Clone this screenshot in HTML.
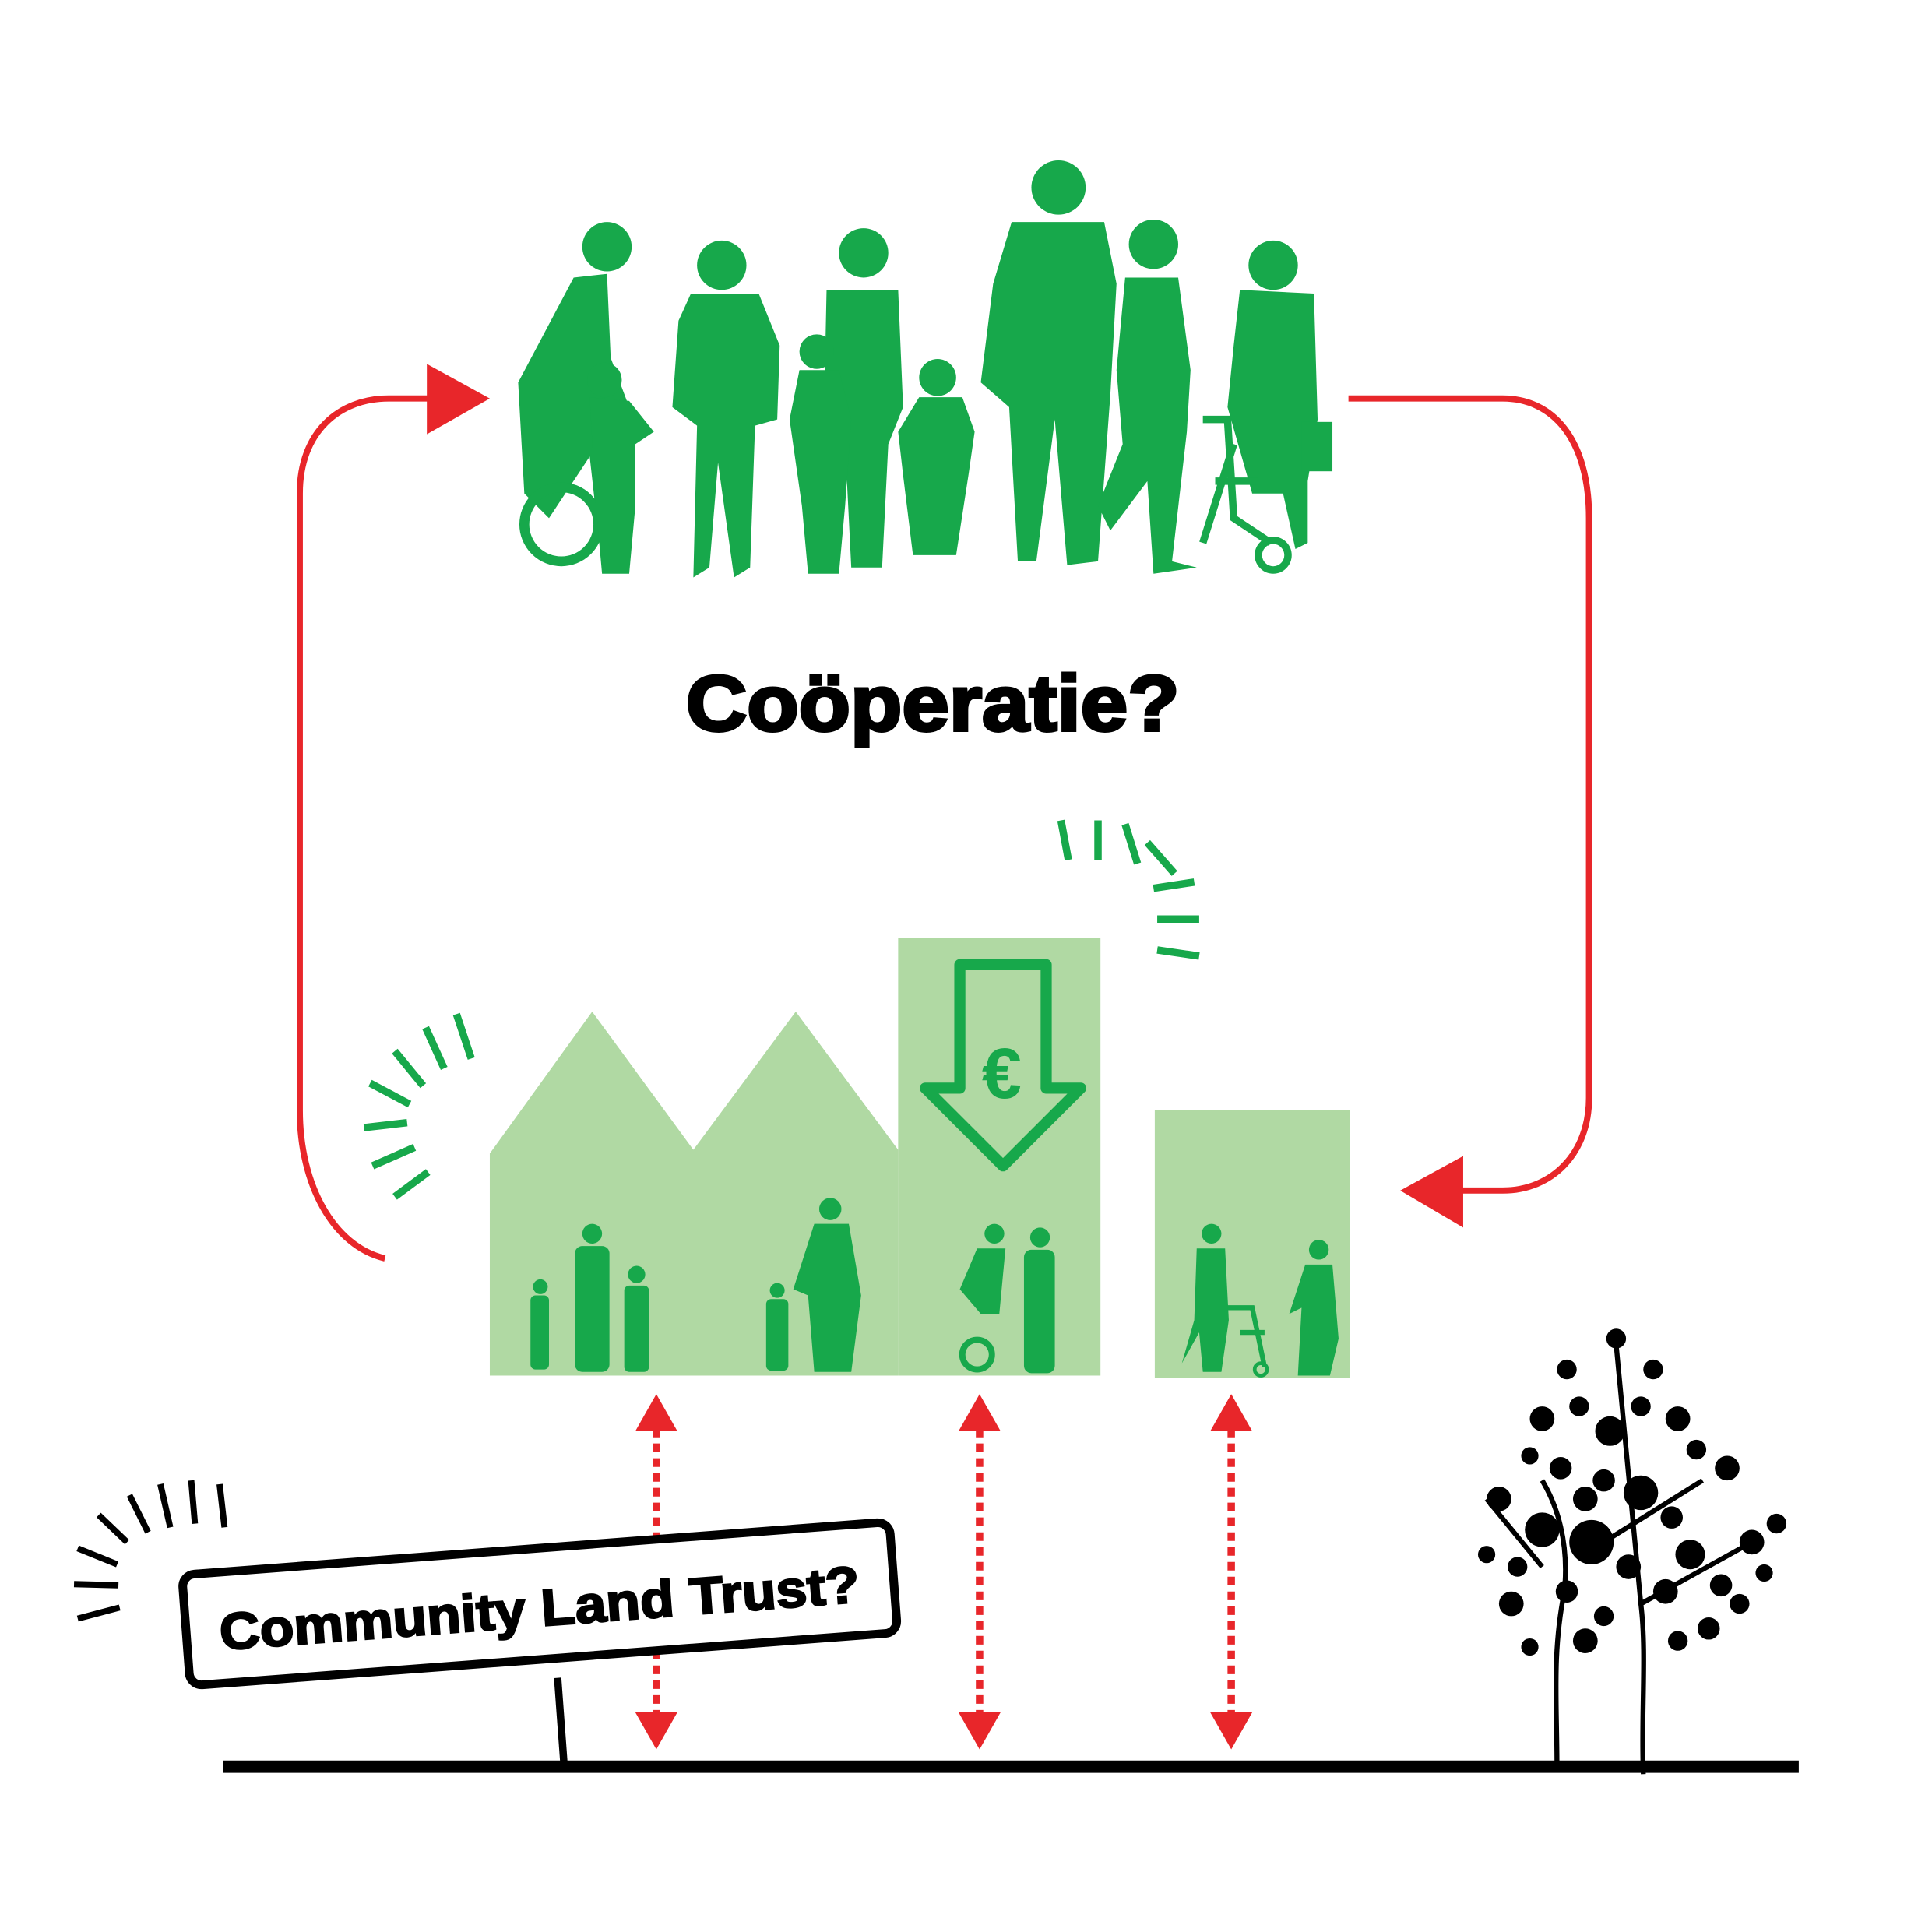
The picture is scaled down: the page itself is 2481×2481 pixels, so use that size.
<!DOCTYPE html>
<html><head><meta charset="utf-8"><style>
html,body{margin:0;padding:0;background:#fff}
svg{display:block}
</style></head><body>
<svg width="2481" height="2481" viewBox="0 0 1566 1566" xmlns="http://www.w3.org/2000/svg">
<rect width="1566" height="1566" fill="#fff"/>
<!-- red loop -->
<g fill="none" stroke="#e8262a" stroke-width="5">
<path d="M312,1020 C270,1010 243,960 243,900 L243,400 C243,350 275,323 315,323 L352,323"/>
<path d="M1093,323 L1218,323 C1258,323 1288,355 1288,420 L1288,890 C1288,935 1258,965 1218,965 L1183,965"/>
</g>
<polygon points="346,295 397,323 346,352" fill="#e8262a"/>
<polygon points="1186,937 1135,965 1186,995" fill="#e8262a"/>
<!-- big people -->
<g fill="#17a84b">
<circle cx="492" cy="200" r="20"/><path d="M465,225 L492,222 L495,290 L510,330 L505,460 L488,460 L478,370 L445,420 L425,400 L420,310 Z"/>
<circle cx="455" cy="425" r="30" fill="none" stroke="#17a84b" stroke-width="8"/>
<circle cx="490" cy="308" r="14"/><path d="M478,322 L510,325 L530,350 L515,360 L515,410 L510,465 L488,465 L483,410 Z"/>
<circle cx="585" cy="215" r="20"/><path d="M560,238 L615,238 L632,280 L630,340 L612,345 L608,460 L595,468 L582,375 L575,460 L562,468 L565,345 L545,330 L550,260 Z"/>
<circle cx="700" cy="205" r="20"/><path d="M670,235 L728,235 L732,330 L720,360 L715,460 L690,460 L685,360 L668,330 Z"/>
<circle cx="662" cy="285" r="14"/><path d="M648,300 L680,300 L690,340 L685,410 L680,465 L655,465 L650,410 L640,340 Z"/>
<circle cx="760" cy="306" r="15"/><path d="M745,322 L780,322 L790,350 L785,385 L775,450 L740,450 L732,385 L728,350 Z"/>
<circle cx="858" cy="152" r="22"/><path d="M820,180 L895,180 L905,230 L900,320 L890,455 L865,458 L855,340 L840,455 L825,455 L818,330 L795,310 L805,230 Z"/>
<circle cx="935" cy="198" r="20"/><path d="M912,225 L955,225 L965,300 L962,350 L950,455 L970,460 L935,465 L930,390 L900,430 L890,410 L910,360 L905,300 Z"/>
<circle cx="1032" cy="215" r="20"/><path d="M1005,235 L1065,238 L1068,340 L1060,390 L1060,440 L1050,445 L1040,400 L1015,400 L995,330 L1000,280 Z"/>
<rect x="1055" y="342" width="25" height="40"/>
</g>
<g fill="none" stroke="#17a84b" stroke-width="6">
<path d="M975,340 L995,340 L1000,420 L1030,440 M1000,360 L975,440 M985,390 L1020,390"/>
<circle cx="1032" cy="450" r="12"/>
</g>
<text x="756" y="592" font-family="Liberation Sans, sans-serif" font-weight="900" font-size="64" text-anchor="middle" textLength="400" lengthAdjust="spacingAndGlyphs" fill="#000" stroke="#000" stroke-width="2.5">Coöperatie?</text>
<!-- houses -->
<g fill="#b0d9a3">
<polygon points="397,935 480,820 562,932 645,820 728,932 728,1115 397,1115"/>
<rect x="728" y="760" width="164" height="355"/>
<rect x="936" y="900" width="158" height="217"/>
</g>
<path d="M778,782 L848,782 L848,882 L876,882 L813,945 L750,882 L778,882 Z" fill="none" stroke="#17a84b" stroke-width="9" stroke-linejoin="round"/>
<text x="812" y="890" font-family="Liberation Sans, sans-serif" font-weight="bold" font-size="58" text-anchor="middle" fill="#17a84b">€</text>
<!-- small people -->
<g fill="#17a84b">
<circle cx="438" cy="1043" r="6"/><rect x="430" y="1050" width="15" height="60" rx="4"/>
<circle cx="480" cy="1000" r="8"/><rect x="466" y="1010" width="28" height="102" rx="6"/>
<circle cx="516" cy="1033" r="7"/><rect x="506" y="1042" width="20" height="70" rx="4"/>
<circle cx="630" cy="1046" r="6"/><rect x="621" y="1053" width="18" height="58" rx="4"/>
<circle cx="673" cy="980" r="9"/><path d="M660,992 L688,992 L698,1050 L690,1112 L660,1112 L655,1050 L643,1045 Z"/>
<circle cx="806" cy="1000" r="8"/><path d="M792,1012 L815,1012 L810,1065 L795,1065 L778,1045 Z"/>
<circle cx="843" cy="1003" r="8"/><rect x="830" y="1013" width="25" height="100" rx="6"/>
<circle cx="982" cy="1000" r="8"/><path d="M970,1012 L993,1012 L996,1070 L990,1112 L975,1112 L972,1080 L958,1105 L968,1070 Z"/>
<circle cx="1069" cy="1013" r="8"/><path d="M1058,1025 L1080,1025 L1085,1085 L1078,1115 L1052,1115 L1055,1060 L1045,1065 Z"/>
</g>
<circle cx="792" cy="1098" r="12" fill="none" stroke="#17a84b" stroke-width="5"/>
<path d="M995,1060 L1015,1060 L1025,1108 M1005,1080 L1025,1080" fill="none" stroke="#17a84b" stroke-width="4"/>
<circle cx="1022" cy="1110" r="5" fill="none" stroke="#17a84b" stroke-width="3"/>
<!-- green ticks -->
<g stroke="#17a84b" stroke-width="6">
<line x1="370" y1="822" x2="382" y2="858"/><line x1="345" y1="833" x2="360" y2="866"/>
<line x1="320" y1="852" x2="343" y2="880"/><line x1="300" y1="878" x2="332" y2="895"/>
<line x1="295" y1="914" x2="330" y2="910"/><line x1="302" y1="945" x2="336" y2="930"/>
<line x1="320" y1="970" x2="347" y2="950"/>
<line x1="860" y1="665" x2="866" y2="697"/><line x1="890" y1="665" x2="890" y2="697"/>
<line x1="912" y1="668" x2="922" y2="700"/><line x1="930" y1="683" x2="952" y2="708"/>
<line x1="935" y1="720" x2="968" y2="715"/><line x1="938" y1="745" x2="972" y2="745"/>
<line x1="938" y1="770" x2="972" y2="775"/>
</g>
<!-- red dotted arrows -->
<g stroke="#e8262a" stroke-width="6" stroke-dasharray="7 5">
<line x1="532" y1="1158" x2="532" y2="1390"/><line x1="794" y1="1158" x2="794" y2="1390"/><line x1="998" y1="1158" x2="998" y2="1390"/>
</g>
<g fill="#e8262a">
<polygon points="515,1160 532,1130 549,1160"/><polygon points="515,1388 532,1418 549,1388"/>
<polygon points="777,1160 794,1130 811,1160"/><polygon points="777,1388 794,1418 811,1388"/>
<polygon points="981,1160 998,1130 1015,1160"/><polygon points="981,1388 998,1418 1015,1388"/>
</g>
<!-- ground -->
<line x1="181" y1="1432" x2="1458" y2="1432" stroke="#000" stroke-width="10"/>
<line x1="452" y1="1360" x2="457" y2="1428" stroke="#000" stroke-width="6"/>
<g transform="rotate(-4.3 437 1300)">
<rect x="150" y="1255" width="575" height="90" rx="10" fill="#fff" stroke="#000" stroke-width="7"/>
<text x="437" y="1318" font-family="Liberation Sans, sans-serif" font-weight="900" font-size="42" text-anchor="middle" textLength="520" lengthAdjust="spacingAndGlyphs" fill="#000" stroke="#000" stroke-width="1.5">Community Land Trust?</text>
</g>
<g stroke="#000" stroke-width="5">
<line x1="178" y1="1203" x2="182" y2="1238"/><line x1="155" y1="1200" x2="158" y2="1235"/>
<line x1="130" y1="1203" x2="138" y2="1238"/><line x1="105" y1="1212" x2="120" y2="1242"/>
<line x1="80" y1="1228" x2="103" y2="1250"/><line x1="63" y1="1255" x2="95" y2="1268"/>
<line x1="60" y1="1284" x2="96" y2="1285"/><line x1="63" y1="1312" x2="97" y2="1303"/>
</g>
<!-- tree -->
<g stroke="#000" stroke-width="4" fill="none">
<path d="M1262,1430 C1262,1380 1258,1340 1268,1290 C1272,1250 1262,1220 1250,1200"/>
<path d="M1332,1438 C1330,1390 1335,1340 1330,1300 C1325,1250 1320,1190 1310,1090"/>
<path d="M1300,1250 L1380,1200 M1250,1270 L1205,1215 M1330,1300 L1420,1250"/>
</g>
<g fill="#000">
<circle cx="1290" cy="1250" r="18"/><circle cx="1250" cy="1240" r="14"/><circle cx="1330" cy="1210" r="14"/>
<circle cx="1305" cy="1160" r="12"/><circle cx="1360" cy="1150" r="10"/><circle cx="1250" cy="1150" r="10"/>
<circle cx="1215" cy="1215" r="10"/><circle cx="1225" cy="1300" r="10"/><circle cx="1285" cy="1330" r="10"/>
<circle cx="1370" cy="1260" r="12"/><circle cx="1420" cy="1250" r="10"/><circle cx="1400" cy="1190" r="10"/>
<circle cx="1310" cy="1085" r="8"/><circle cx="1340" cy="1110" r="8"/><circle cx="1270" cy="1110" r="8"/>
<circle cx="1385" cy="1320" r="9"/><circle cx="1440" cy="1235" r="8"/><circle cx="1205" cy="1260" r="7"/>
<circle cx="1350" cy="1290" r="10"/><circle cx="1265" cy="1190" r="9"/><circle cx="1240" cy="1335" r="7"/>
<circle cx="1320" cy="1270" r="10"/><circle cx="1395" cy="1285" r="9"/><circle cx="1280" cy="1140" r="8"/>
<circle cx="1230" cy="1270" r="8"/><circle cx="1270" cy="1290" r="9"/><circle cx="1300" cy="1200" r="9"/>
<circle cx="1355" cy="1230" r="9"/><circle cx="1375" cy="1175" r="8"/><circle cx="1330" cy="1140" r="8"/>
<circle cx="1410" cy="1300" r="8"/><circle cx="1360" cy="1330" r="8"/><circle cx="1300" cy="1310" r="8"/>
<circle cx="1240" cy="1180" r="7"/><circle cx="1285" cy="1215" r="10"/><circle cx="1430" cy="1275" r="7"/>
</g>
</svg>
</body></html>
